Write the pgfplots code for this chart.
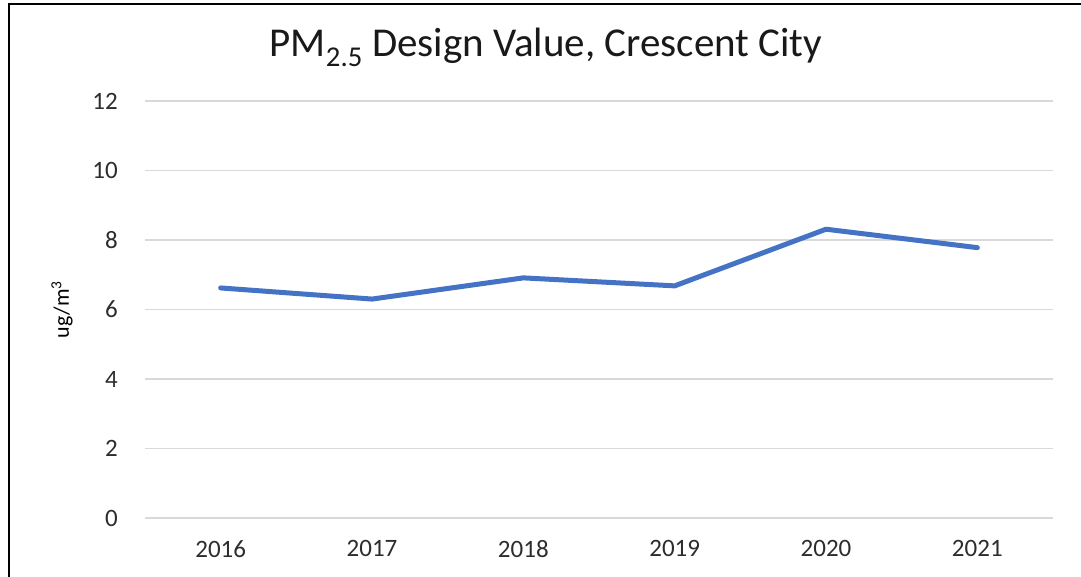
\documentclass[border=0pt]{standalone}
\usepackage{pgfplots}
\pgfplotsset{compat=1.18}
\usepackage{fontspec}
\setmainfont{Carlito}
\definecolor{lineblue}{RGB}{68,114,196}
\definecolor{gridgray}{RGB}{217,217,217}
\definecolor{ticktxt}{RGB}{45,45,45}
\begin{document}
\begin{tikzpicture}[x=1pt,y=1pt]
\path[use as bounding box] (0,0) rectangle (1081,577);
\draw[black, line width=2.5pt] (9,0) -- (9,573) -- (1081,573);
\node[font=\fontsize{41}{48}\selectfont, text=black!90] at (546,530) {PM\textsubscript{2.5} Design Value, Crescent City};
\begin{axis}[
  at={(145pt,59pt)}, anchor=south west,
  scale only axis, width=908pt, height=417pt,
  xmin=-0.5, xmax=5.5, ymin=0, ymax=12,
  xtick={0,1,2,3,4,5},
  xticklabels={2016,2017,2018,2019,2020,2021},
  ytick={0,2,4,6,8,10,12},
  ymajorgrids,
  grid style={gridgray, line width=1.5pt},
  axis line style={draw=none},
  major tick length=0pt,
  tick style={draw=none},
  /pgf/number format/assume math mode=true,
  ticklabel style={font=\fontsize{25}{30}\selectfont, text=ticktxt, inner sep=0pt},
  yticklabel style={xshift=-27pt},
  xticklabel style={yshift=-22pt},
  ylabel={ug/m\textsuperscript{3}},
  ylabel style={at={(rel axis cs:0,0.5)}, anchor=center, yshift=83pt, font=\fontsize{22}{26}\selectfont, text=black},
  clip=false,
]
\addplot[lineblue, line width=5pt, line join=round, line cap=round] coordinates {
(0,6.62) (1,6.30) (2,6.91) (3,6.68) (4,8.31) (5,7.78)
};
\end{axis}
\end{tikzpicture}
\end{document}
